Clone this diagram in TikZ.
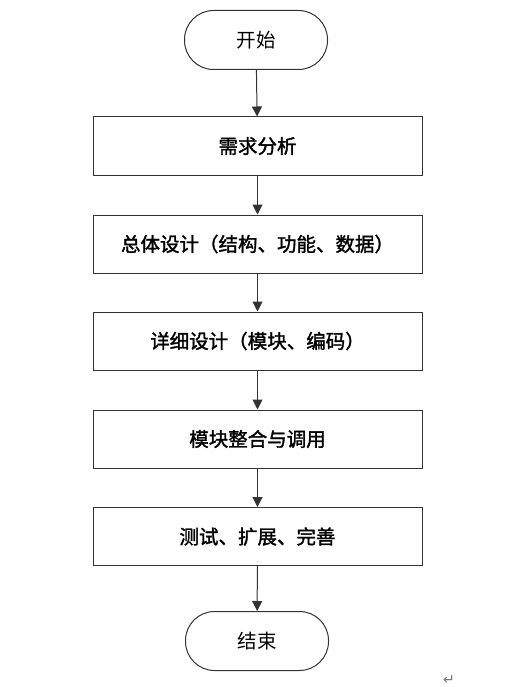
\documentclass[tikz,border=0pt]{standalone}
\usepackage{fontspec}
\newfontfamily\cjk{Noto Sans CJK SC}
\newfontfamily\cjkb[FakeBold=1.6]{Noto Sans CJK SC}
\newfontfamily\sym{DejaVu Sans}
\usetikzlibrary{arrows.meta}
\begin{document}
\begin{tikzpicture}[x=1pt,y=-1pt,
  every node/.style={font=\cjk\fontsize{19.5}{22}\selectfont, text=black},
  proc/.style={draw=black!80, line width=1pt, minimum width=329pt, minimum height=58pt, inner sep=0pt, font=\cjkb\fontsize{19.5}{22}\selectfont},
  term/.style={draw=black!80, line width=1pt, rounded corners=29pt, minimum width=143pt, minimum height=59pt, inner sep=0pt, font=\cjk\fontsize{19.5}{22}\selectfont},
  arr/.style={draw=black!80, line width=1pt, -{Triangle[length=10pt,width=10pt]}}]
\useasboundingbox (0,0) rectangle (519,687);
\node[term] (s) at (256,40) {开始};
\node[proc] (a) at (257.5,146) {需求分析};
\node[proc] (b) at (257.5,244) {总体设计（结构、功能、数据）};
\node[proc] (c) at (257.5,341) {详细设计（模块、编码）};
\node[proc] (d) at (257.5,439) {模块整合与调用};
\node[proc] (e) at (257.5,536.5) {测试、扩展、完善};
\node[term] (f) at (257,641) {结束};
\draw[arr] (s) -- (a);
\draw[arr] (a) -- (b);
\draw[arr] (b) -- (c);
\draw[arr] (c) -- (d);
\draw[arr] (d) -- (e);
\draw[arr] (e) -- (f);
\node[font=\sym\fontsize{14}{15}\selectfont, text=black!55] (m) at (449,680) {↵};
\end{tikzpicture}
\end{document}
